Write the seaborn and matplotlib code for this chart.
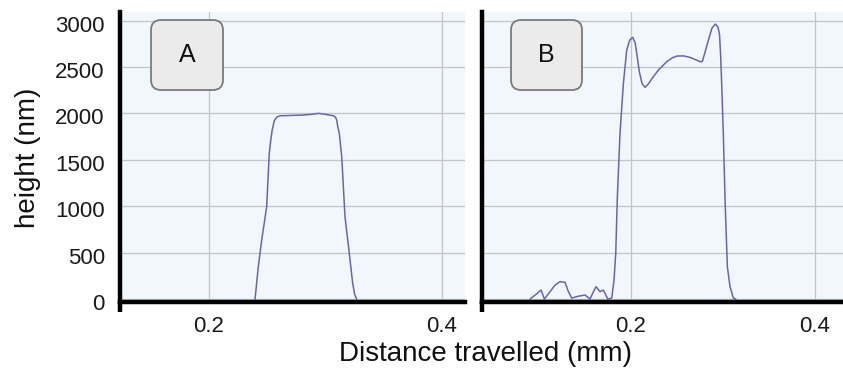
import numpy as np
import pandas as pd
import seaborn as sns
import matplotlib
matplotlib.use("Agg")
import matplotlib.pyplot as plt
from matplotlib.patches import FancyBboxPatch
from matplotlib.lines import Line2D
from matplotlib.transforms import IdentityTransform, ScaledTranslation

# ---- data ----
xa = [0.2395, 0.2423, 0.2452, 0.2495, 0.2517, 0.2530, 0.2542, 0.2560, 0.2581,
      0.2610, 0.2700, 0.2800, 0.2880, 0.2938, 0.3000, 0.3067, 0.3085, 0.3096,
      0.3105, 0.3118, 0.3139, 0.3167, 0.3204, 0.3233, 0.3250, 0.3267]
ya = [0, 348, 636, 995, 1570, 1713, 1820, 1920, 1960,
      1975, 1978, 1982, 1990, 2001, 1990, 1975, 1960, 1930,
      1857, 1786, 1534, 887, 493, 169, 50, 0]

xb = [0.0902, 0.0967, 0.1022, 0.1058, 0.1120, 0.1174, 0.1228, 0.1283, 0.1315,
      0.1355, 0.1424, 0.1500, 0.1554, 0.1587, 0.1620, 0.1663, 0.1699, 0.1747,
      0.1790, 0.1815, 0.1834, 0.1850, 0.1880, 0.1917, 0.1953, 0.1985, 0.2018,
      0.2045, 0.2062, 0.2090, 0.2120, 0.2152, 0.2190, 0.2242, 0.2300, 0.2388,
      0.2450, 0.2497, 0.2570, 0.2641, 0.2700, 0.2750, 0.2775, 0.2810, 0.2841,
      0.2880, 0.2917, 0.2945, 0.2962, 0.2975, 0.2985, 0.3003, 0.3022, 0.3047,
      0.3076, 0.3112, 0.3140]
yb = [0, 50, 97, 0, 80, 150, 187, 180, 90,
      10, 30, 43, 0, 70, 133, 79, 97, 0,
      10, 205, 496, 1067, 1785, 2324, 2683, 2790, 2820,
      2760, 2647, 2450, 2320, 2281, 2320, 2396, 2470, 2557,
      2600, 2618, 2620, 2604, 2580, 2557, 2560, 2680, 2790,
      2920, 2963, 2930, 2850, 2600, 2324, 1785, 1067, 348,
      133, 10, 0]

yticks = [0, 500, 1000, 1500, 2000, 2500, 3000]
xticks = [0.2, 0.4]
xtick_labels = ["0.2", "0.4"]
panel_labels = ["A", "B"]
ylabel = "height (nm)"
xlabel = "Distance travelled (mm)"

sns.set_theme(style="whitegrid")
plt.rcParams["font.family"] = ["Liberation Sans", "DejaVu Sans"]

W, H = 843, 372
fig = plt.figure(figsize=(W / 100, H / 100), dpi=100)

def px_rect(left, right, top, bottom):
    return [left / W, 1 - bottom / H, (right - left) / W, (bottom - top) / H]

axA = fig.add_axes(px_rect(120, 465, 12, 302))
axB = fig.add_axes(px_rect(482, 843, 12, 302))

dfA = pd.DataFrame({"x": xa, "y": ya})
dfB = pd.DataFrame({"x": xb, "y": yb})
line_color = "#6666b0"
sns.lineplot(data=dfA, x="x", y="y", ax=axA, color=line_color, linewidth=1.1,
             sort=False, solid_joinstyle="round")
sns.lineplot(data=dfB, x="x", y="y", ax=axB, color=line_color, linewidth=1.1,
             sort=False, solid_joinstyle="round")

axA.set_xlim(0.1236, 0.4197)
axB.set_xlim(0.038, 0.4304)

for ax, lab, box_x in [(axA, panel_labels[0], (151, 223)), (axB, panel_labels[1], (511, 582))]:
    ax.set_ylim(-32, 3093)
    ax.set_facecolor("#f1f7fc")
    ax.set_yticks(yticks)
    ax.set_xticks(xticks)
    ax.set_xticklabels(xtick_labels)
    ax.grid(True, color="#c4c4c4", linewidth=0.9)
    ax.set_axisbelow(True)
    ax.set_xlabel("")
    ax.set_ylabel("")
    for s in ["top", "right"]:
        ax.spines[s].set_visible(False)
    for s in ["left", "bottom"]:
        ax.spines[s].set_visible(True)
        ax.spines[s].set_color("black")
        ax.spines[s].set_linewidth(3.2)
    ax.tick_params(axis="both", length=0, labelsize=16, colors="#1a1a1a")
    ax.tick_params(axis="x", pad=10)
    ax.tick_params(axis="y", pad=11)
    # extension of left axis below the x axis
    ax.add_line(Line2D([0, 0], [0, -10 / 290], transform=ax.transAxes,
                       color="black", linewidth=3.2, clip_on=False,
                       solid_capstyle="butt"))
    # label box
    x0, x1 = box_x
    y0, y1 = 20, 90
    box = FancyBboxPatch((x0, H - y1), x1 - x0, y1 - y0,
                         boxstyle="round,pad=0,rounding_size=10",
                         transform=IdentityTransform(),
                         facecolor="#ebebeb", edgecolor="#7a7a7a", linewidth=1.3)
    fig.add_artist(box)
    fig.text((x0 + x1) / 2 / W, 1 - (y0 + y1) / 2 / H, lab, ha="center", va="center",
             fontsize=18, color="#111111")

axB.set_yticklabels([])
offset = ScaledTranslation(0, -3 / 100, fig.dpi_scale_trans)
for t in axA.get_yticklabels():
    t.set_transform(t.get_transform() + offset)

fig.text(28 / W, 1 - 158 / H, ylabel, rotation=90, ha="center", va="center",
         fontsize=20, color="#111111")
fig.text(485 / W, 1 - 354 / H, xlabel, ha="center", va="center",
         fontsize=20, color="#111111")

fig.savefig("out.png", dpi=100, facecolor="white")
